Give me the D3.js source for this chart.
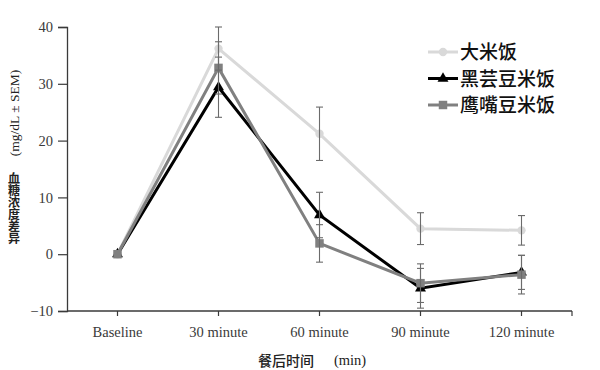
<!DOCTYPE html>
<html><head><meta charset="utf-8">
<script src="https://cdn.jsdelivr.net/npm/d3@7"></script>
<style>body{margin:0;background:#fff}svg{display:block}</style>
</head><body>
<svg id="c" width="600" height="370"></svg>
<script>
const categories = ["Baseline", "30 minute", "60 minute", "90 minute", "120 minute"];
const seriesNames = ["大米饭", "黑芸豆米饭", "鹰嘴豆米饭"];
const riceValues = [0, 36.2, 21.2, 4.5, 4.2];
const riceErrors = [0, 3.8, 4.7, 2.8, 2.6];
const blackBeanValues = [0, 29.4, 6.9, -6.0, -3.2];
const blackBeanErrors = [0, 5.3, 4.0, 3.5, 3.0];
const chickpeaValues = [0, 32.8, 1.9, -5.1, -3.6];
const chickpeaErrors = [0, 4.6, 3.3, 3.4, 3.4];
const yTicks = [-10, 0, 10, 20, 30, 40];
const yTitleCJK = "血糖浓度差异";

const series = [
  {name: seriesNames[0], values: riceValues, errors: riceErrors, color: "#d9d9d9", marker: "circle"},
  {name: seriesNames[1], values: blackBeanValues, errors: blackBeanErrors, color: "#000000", marker: "triangle"},
  {name: seriesNames[2], values: chickpeaValues, errors: chickpeaErrors, color: "#808080", marker: "square"}
];

const svg = d3.select("#c");
const pLeft = 67, pRight = 572, pTop = 27, pBottom = 311;
const x = d3.scaleBand().domain(categories).range([pLeft, pRight]).padding(0);
const cx = c => x(c) + x.bandwidth() / 2;
const y = d3.scaleLinear().domain([-10, 40]).range([pBottom, pTop]);
const serif = "'Liberation Serif', 'DejaVu Serif', serif";
const cjk = "'Noto Sans CJK SC', sans-serif";
const axisColor = "#3a3a3a";

// y axis
const ya = svg.append("g").attr("transform", `translate(${pLeft},0)`)
  .call(d3.axisLeft(y).tickValues(yTicks).tickSize(9).tickPadding(5).tickFormat(d3.format("d")));
ya.select(".domain").attr("stroke", axisColor).attr("stroke-width", 1.3);
ya.selectAll(".tick line").attr("stroke", axisColor).attr("stroke-width", 1.2);
ya.selectAll("text").attr("font-family", serif).attr("font-size", 14.5).attr("fill", "#3a3a3a");

// x axis
const xa = svg.append("g").attr("transform", `translate(0,${pBottom})`);
xa.append("line").attr("x1", pLeft).attr("x2", pRight).attr("y1", 0).attr("y2", 0)
  .attr("stroke", axisColor).attr("stroke-width", 1.3);
const xTickPos = categories.map(cx).concat([pRight]);
xa.selectAll("line.t").data(xTickPos).enter().append("line").attr("class", "t")
  .attr("x1", d => d).attr("x2", d => d).attr("y1", 0).attr("y2", 5)
  .attr("stroke", axisColor).attr("stroke-width", 1.2);
xa.selectAll("text").data(categories).enter().append("text")
  .attr("x", d => cx(d)).attr("y", 26).attr("text-anchor", "middle")
  .attr("font-family", serif).attr("font-size", 14.5).attr("fill", "#3a3a3a").text(d => d);

// axis titles
svg.append("text").attr("x", 286).attr("y", 366).attr("text-anchor", "middle")
  .attr("font-family", cjk).attr("font-size", 14).attr("font-weight", 500).attr("fill", "#222").text("餐后时间");
svg.append("text").attr("x", 350).attr("y", 365).attr("text-anchor", "middle")
  .attr("font-family", serif).attr("font-size", 14.5).attr("fill", "#222").text("(min)");
svg.append("text").attr("transform", "translate(19,113) rotate(-90)").attr("text-anchor", "middle")
  .attr("font-family", serif).attr("font-size", 13.5).attr("fill", "#222").text("(mg/dL ± SEM)");
svg.append("text").attr("x", 14).attr("y", 172)
  .style("writing-mode", "vertical-rl").style("text-orientation", "upright")
  .attr("font-family", cjk).attr("font-size", 12).attr("font-weight", 700).attr("fill", "#222").text(yTitleCJK);

// lines + markers (series order)
const line = d3.line().x((d, i) => cx(categories[i])).y(d => y(d));
const symType = {circle: d3.symbolCircle, square: d3.symbolSquare, triangle: d3.symbolTriangle};
const symSize = {circle: 55, square: 72, triangle: 52};
function drawMarker(g, s, px, py) {
  g.append("path").attr("d", d3.symbol().type(symType[s.marker]).size(symSize[s.marker])())
    .attr("transform", `translate(${px},${py})`).attr("fill", s.color);
}
series.forEach(s => {
  const g = svg.append("g");
  g.append("path").datum(s.values).attr("d", line).attr("fill", "none")
    .attr("stroke", s.color).attr("stroke-width", 3).attr("stroke-linejoin", "miter");
  s.values.forEach((v, i) => drawMarker(g, s, cx(categories[i]), y(v)));
});

// error bars
series.forEach(s => {
  const g = svg.append("g").attr("stroke", "#6b6b6b").attr("stroke-width", 1.1);
  s.values.forEach((v, i) => {
    const e = s.errors[i];
    if (!e) return;
    const px = cx(categories[i]);
    g.append("line").attr("x1", px).attr("x2", px).attr("y1", y(v + e)).attr("y2", y(v - e));
    g.append("line").attr("x1", px - 3.5).attr("x2", px + 3.5).attr("y1", y(v + e)).attr("y2", y(v + e));
    g.append("line").attr("x1", px - 3.5).attr("x2", px + 3.5).attr("y1", y(v - e)).attr("y2", y(v - e));
  });
});

// legend
const lg = svg.append("g");
series.forEach((s, i) => {
  const ly = 52 + i * 26.5;
  lg.append("line").attr("x1", 428).attr("x2", 458).attr("y1", ly).attr("y2", ly)
    .attr("stroke", s.color).attr("stroke-width", 3);
  drawMarker(lg, s, 443, ly);
  lg.append("text").attr("x", 460).attr("y", ly + 7).attr("font-family", cjk)
    .attr("font-size", 19).attr("font-weight", 500).attr("fill", "#111").text(s.name);
});
</script>
</body></html>
